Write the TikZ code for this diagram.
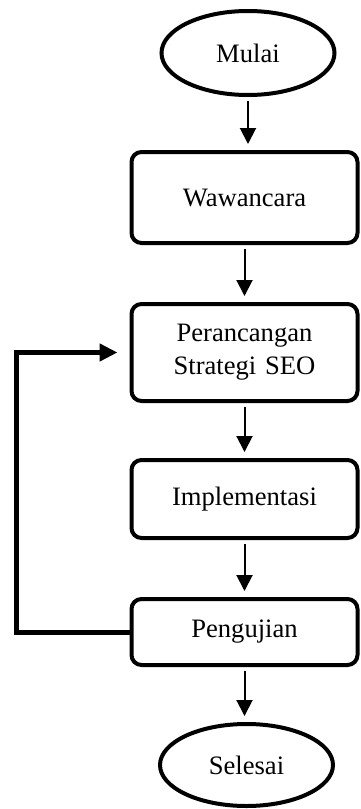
\documentclass[tikz,border=0pt]{standalone}
\usepackage{fontspec}
\setmainfont{Liberation Serif}
\usetikzlibrary{shapes.geometric,arrows.meta}

\begin{document}
\begin{tikzpicture}[x=0.5pt,y=-0.5pt,
        terminal/.style={ellipse, draw, line width=2pt, minimum width=86.5pt, minimum height=42pt, inner sep=0pt},
        process/.style={rectangle, rounded corners=5pt, draw, line width=2pt, text width=110pt, align=center, minimum width=113pt, inner sep=0pt},
        arrow/.style={-{Triangle[length=8pt,width=8pt]}, line width=1pt, shorten <=2pt, shorten >=3pt},
        feedback/.style={-{Triangle[length=9pt,width=8.5pt]}, line width=2.5pt, shorten >=6pt}]
    \useasboundingbox (0,0) rectangle (360,809);
    \fontsize{13.3}{16.5}\selectfont

    % Nodes
    \node[terminal] (mulai) at (248,53) {Mulai};
    \node[process, minimum height=45.5pt] (wawancara) at (244.5,197.5) {Wawancara};
    \node[process, minimum height=48.5pt] (perancangan) at (244.5,352.5) {Perancangan\\Strategi SEO};
    \node[process, minimum height=39pt] (implementasi) at (244.5,499) {Implementasi};
    \node[process, minimum height=33pt] (pengujian) at (244.5,632) {Pengujian};
    \node[terminal, minimum height=41pt] (selesai) at (246.5,765) {Selesai};

    % Arrows
    \draw[arrow] (mulai.south) -- (mulai.south |- wawancara.north);
    \draw[arrow] (wawancara.south) -- (perancangan.north);
    \draw[arrow] (perancangan.south) -- (implementasi.north);
    \draw[arrow] (implementasi.south) -- (pengujian.north);
    \draw[arrow] (pengujian.south) -- (pengujian.south |- selesai.north);

    % Loop back
    \draw[feedback] (pengujian.west) -- ++(-113,0) |- (perancangan.west);

\end{tikzpicture}
\end{document}
